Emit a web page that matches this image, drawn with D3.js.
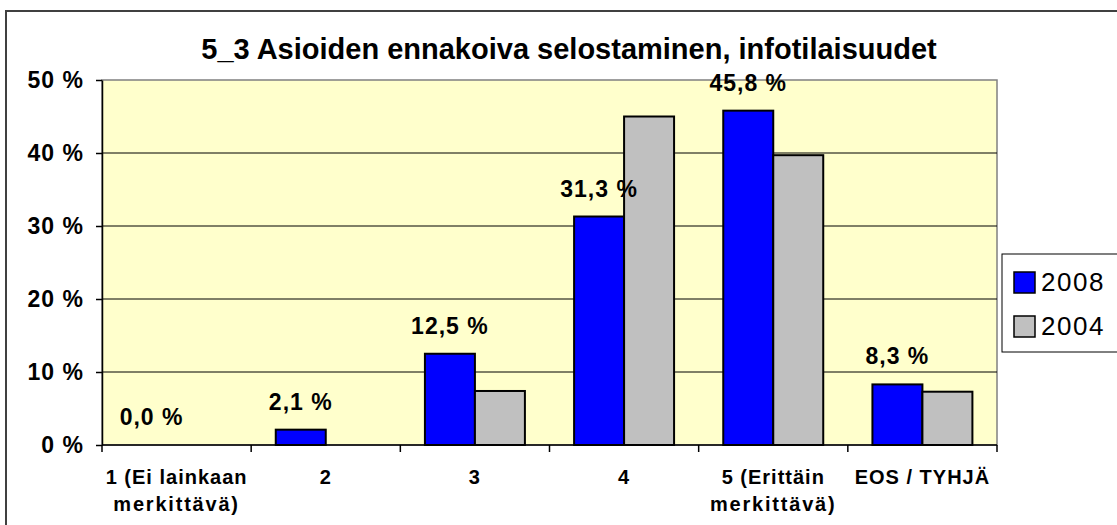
<!DOCTYPE html>
<html>
<head>
<meta charset="utf-8">
<script src="https://cdn.jsdelivr.net/npm/d3@7"></script>
<style>
	body { margin: 0; background: #fff; }
	svg { display: block; font-family: "Liberation Sans", Arial, sans-serif; }
</style>
</head>
<body>
<div class="c-svg"></div>
<script>
//DATA
//-------------------------------------------------------------------------
const categories = [["1 (Ei lainkaan", "merkittävä)"], ["2"], ["3"], ["4"], ["5 (Erittäin", "merkittävä)"], ["EOS / TYHJÄ"]];
const seriesNames = ["2008", "2004"];
const values2008 = [0.0, 2.1, 12.5, 31.3, 45.8, 8.3];
const values2004 = [0, 0, 7.4, 45.0, 39.7, 7.3];
const yTicks = [0, 10, 20, 30, 40, 50];
const title = "5_3 Asioiden ennakoiva selostaminen, infotilaisuudet";

const colors = {"2008": "#0000ff", "2004": "#c0c0c0"};

//opts for svg
const opts = { width: 1117, height: 525 };
const plot = { left: 102, top: 80, right: 997, bottom: 445 };

const svg = d3.select(".c-svg")
	.append("svg")
	.attr("width", opts.width)
	.attr("height", opts.height);

//outer chart frame
svg.append("rect")
	.attr("x", 6).attr("y", 11)
	.attr("width", 1140).attr("height", 540)
	.attr("fill", "#fff")
	.attr("stroke", "#404040")
	.attr("stroke-width", 2);

//title
svg.append("text")
	.attr("x", 569)
	.attr("y", 59)
	.attr("text-anchor", "middle")
	.attr("font-weight", "bold")
	.attr("font-size", 29)
	.text(title);

//SCALES
//-------------------------------------------------------------------------
const catIndex = d3.range(categories.length);

const x = d3.scaleBand()
	.domain(catIndex)
	.range([plot.left, plot.right])
	.padding(0);

const x1 = d3.scaleBand()
	.domain(seriesNames)
	.range([0, x.bandwidth()])
	.paddingInner(0)
	.paddingOuter(0.492);

const y = d3.scaleLinear()
	.domain([0, 50])
	.range([plot.bottom, plot.top]);

//plot background
svg.append("rect")
	.attr("x", plot.left).attr("y", plot.top)
	.attr("width", plot.right - plot.left)
	.attr("height", plot.bottom - plot.top)
	.attr("fill", "#ffffcc")
	.attr("stroke", "#808080")
	.attr("stroke-width", 1.5);

//gridlines
svg.append("g")
	.selectAll("line")
	.data(yTicks.filter(t => t > 0 && t < 50))
	.join("line")
	.attr("x1", plot.left).attr("x2", plot.right)
	.attr("y1", d => y(d)).attr("y2", d => y(d))
	.attr("stroke", "#000")
	.attr("stroke-width", 1);

//BARS
//-------------------------------------------------------------------------
const table = catIndex.map(i => ({ i: i, "2008": values2008[i], "2004": values2004[i] }));

const groups = svg.append("g")
	.selectAll("g")
	.data(table)
	.join("g")
	.attr("transform", d => `translate(${x(d.i)} 0)`);

groups.selectAll("rect")
	.data(d => seriesNames.map(s => ({ s: s, v: d[s] })).filter(e => e.v > 0))
	.join("rect")
	.attr("x", e => x1(e.s))
	.attr("y", e => y(e.v))
	.attr("width", x1.bandwidth())
	.attr("height", e => y(0) - y(e.v))
	.attr("fill", e => colors[e.s])
	.attr("stroke", "#000")
	.attr("stroke-width", 2);

//data labels for 2008
groups.append("text")
	.attr("x", x1("2008") + x1.bandwidth() / 2)
	.attr("y", d => y(d["2008"]) - 20)
	.attr("text-anchor", "middle")
	.attr("font-weight", "bold")
	.attr("font-size", 23)
	.attr("letter-spacing", 1)
	.text(d => d["2008"].toFixed(1).replace(".", ",") + " %");

//AXIS
//-------------------------------------------------------------------------
const yAxis = d3.axisLeft(y)
	.tickValues(yTicks)
	.tickSize(6)
	.tickSizeOuter(0)
	.tickPadding(12)
	.tickFormat(d => d + " %");

svg.append("g")
	.attr("class", "axis y_axis")
	.attr("transform", `translate(${plot.left} 0)`)
	.call(yAxis)
	.call(g => g.selectAll("text").attr("font-size", 23).attr("letter-spacing", 1).attr("font-weight", "bold").attr("fill", "#000").attr("font-family", null))
	.call(g => g.selectAll("line,path").attr("stroke", "#000").attr("stroke-width", 1.5));

//x axis baseline and boundary ticks
const xAxisG = svg.append("g").attr("class", "axis x_axis");

xAxisG.append("line")
	.attr("x1", plot.left).attr("x2", plot.right)
	.attr("y1", plot.bottom).attr("y2", plot.bottom)
	.attr("stroke", "#000").attr("stroke-width", 1.5);

xAxisG.selectAll(".bound")
	.data(catIndex.map(i => x(i)).concat([plot.right]))
	.join("line")
	.attr("class", "bound")
	.attr("x1", d => d).attr("x2", d => d)
	.attr("y1", plot.bottom).attr("y2", plot.bottom + 7)
	.attr("stroke", "#000").attr("stroke-width", 1.5);

xAxisG.selectAll(".lab")
	.data(catIndex)
	.join("text")
	.attr("class", "lab")
	.attr("text-anchor", "middle")
	.attr("font-weight", "bold")
	.attr("font-size", 20)
	.each(function(i) {
		d3.select(this).selectAll("tspan")
			.data(categories[i])
			.join("tspan")
			.attr("x", x(i) + x.bandwidth() / 2)
			.attr("y", (t, k) => 484 + k * 27)
			.attr("letter-spacing", t => t.startsWith("merk") ? 1.8 : 1)
			.text(t => t);
	});

//LEGEND
//-------------------------------------------------------------------------
const legend = svg.append("g");

legend.append("rect")
	.attr("x", 1002).attr("y", 254)
	.attr("width", 140).attr("height", 98)
	.attr("fill", "#fff")
	.attr("stroke", "#000")
	.attr("stroke-width", 1);

const items = legend.selectAll(".item")
	.data(seriesNames)
	.join("g")
	.attr("class", "item")
	.attr("transform", (d, k) => `translate(1014 ${272 + k * 44})`);

items.append("rect")
	.attr("width", 21).attr("height", 21)
	.attr("fill", d => colors[d])
	.attr("stroke", "#000")
	.attr("stroke-width", 1.5);

items.append("text")
	.attr("x", 27)
	.attr("y", 19)
	.attr("font-size", 26)
	.attr("letter-spacing", 1.5)
	.text(d => d);
</script>
</body>
</html>
